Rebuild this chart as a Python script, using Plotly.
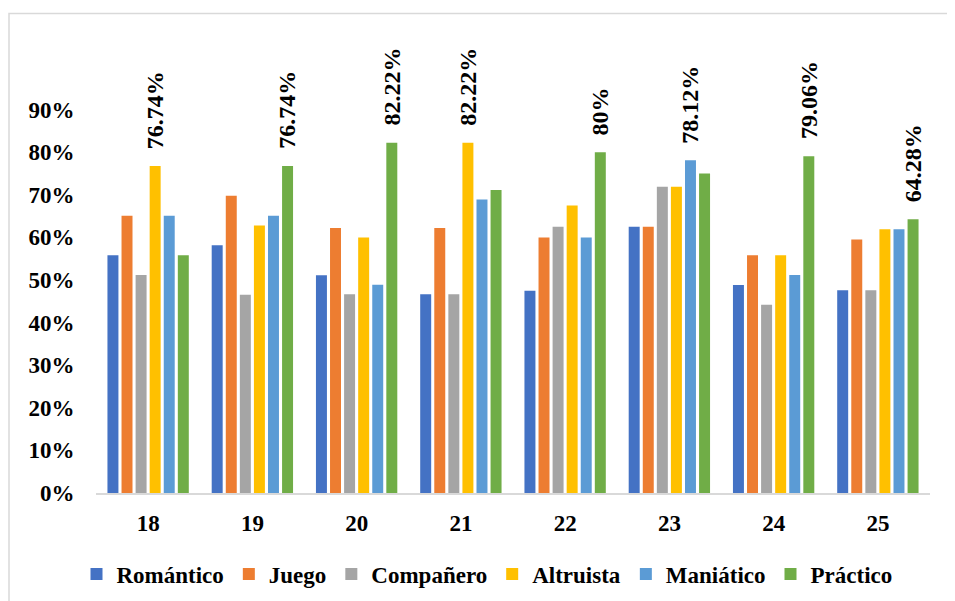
import plotly.graph_objects as go

categories = ["18", "19", "20", "21", "22", "23", "24", "25"]
series_names = ["Romántico", "Juego", "Compañero", "Altruista", "Maniático", "Práctico"]
romantico = [55.81, 58.13, 51.11, 46.66, 47.5, 62.5, 48.83, 47.61]
juego = [65.11, 69.76, 62.22, 62.22, 60.0, 62.5, 55.81, 59.52]
companero = [51.16, 46.51, 46.66, 46.66, 62.5, 71.87, 44.18, 47.61]
altruista = [76.74, 62.79, 60.0, 82.22, 67.5, 71.87, 55.81, 61.9]
maniatico = [65.11, 65.11, 48.88, 68.88, 60.0, 78.12, 51.16, 61.9]
practico = [55.81, 76.74, 82.22, 71.11, 80.0, 75.0, 79.06, 64.28]
colors = ["#4472C4", "#ED7D31", "#A5A5A5", "#FFC000", "#5B9BD5", "#70AD47"]
ytick_vals = [0, 10, 20, 30, 40, 50, 60, 70, 80, 90]
ytick_text = ["0%", "10%", "20%", "30%", "40%", "50%", "60%", "70%", "80%", "90%"]

all_series = [romantico, juego, companero, altruista, maniatico, practico]

# the page body has an 8px margin, so the figure is offset by 8px
OFF = 8
W, H = 955 - OFF, 601 - OFF
ML, MR, MT, MB = 96 - OFF, 25, 67 - OFF, 108
BARGAP, GROUPGAP = 0.19, 0.22
FONT = "Liberation Serif"

fig = go.Figure()
for name, vals, col in zip(series_names, all_series, colors):
    fig.add_trace(go.Bar(x=categories, y=vals, name=name, marker_color=col,
                         marker_line_width=0, hoverinfo="skip"))

# labels on the maximum bar in each group
n = len(series_names)
slot = (1 - BARGAP) / n
annotations = []
for ci, cat in enumerate(categories):
    vals = [s[ci] for s in all_series]
    mi = max(range(n), key=lambda k: vals[k])
    xpos = ci - (1 - BARGAP) / 2 + slot * (mi + 0.5)
    annotations.append(dict(x=xpos, y=vals[mi], xref="x", yref="y",
                            text=f"<b>{vals[mi]:g}%</b>", textangle=-90, showarrow=False,
                            yanchor="bottom", xanchor="center", yshift=15,
                            font=dict(family=FONT, size=24, color="black")))

pw = W - ML - MR
ph = H - MT - MB
def px_x(p):  # screen pixel -> paper x
    return (p - OFF - ML) / pw
def px_y(p):  # screen pixel -> paper y
    return (H - MB - (p - OFF)) / ph

fig.update_layout(
    width=W, height=H,
    margin=dict(l=ML, r=MR, t=MT, b=MB, pad=0, autoexpand=False),
    paper_bgcolor="white", plot_bgcolor="white",
    barmode="group", bargap=BARGAP, bargroupgap=GROUPGAP,
    font=dict(family=FONT, size=23, color="black"),
    xaxis=dict(showgrid=False, showline=True, linecolor="#D9D9D9", linewidth=1.5,
               ticks="outside", ticklen=9, tickcolor="rgba(0,0,0,0)",
               tickfont=dict(family=FONT, size=23, color="black", weight="bold"),
               zeroline=False),
    yaxis=dict(range=[0, 100], showgrid=False, showline=False, zeroline=False,
               tickvals=ytick_vals, ticktext=ytick_text,
               ticks="outside", ticklen=16, tickcolor="rgba(0,0,0,0)",
               tickfont=dict(family=FONT, size=23, color="black", weight="bold")),
    legend=dict(orientation="h", x=px_x(487), xanchor="center", y=px_y(574), yanchor="middle",
                font=dict(family=FONT, size=23, color="black", weight="bold"),
                itemwidth=30, traceorder="normal"),
    annotations=annotations,
    shapes=[dict(type="rect", xref="paper", yref="paper",
                 x0=px_x(9), x1=px_x(970), y0=px_y(620), y1=px_y(13.5),
                 line=dict(color="#D9D9D9", width=1.5), fillcolor="rgba(0,0,0,0)",
                 layer="below")],
)

fig.write_html("out.html")
